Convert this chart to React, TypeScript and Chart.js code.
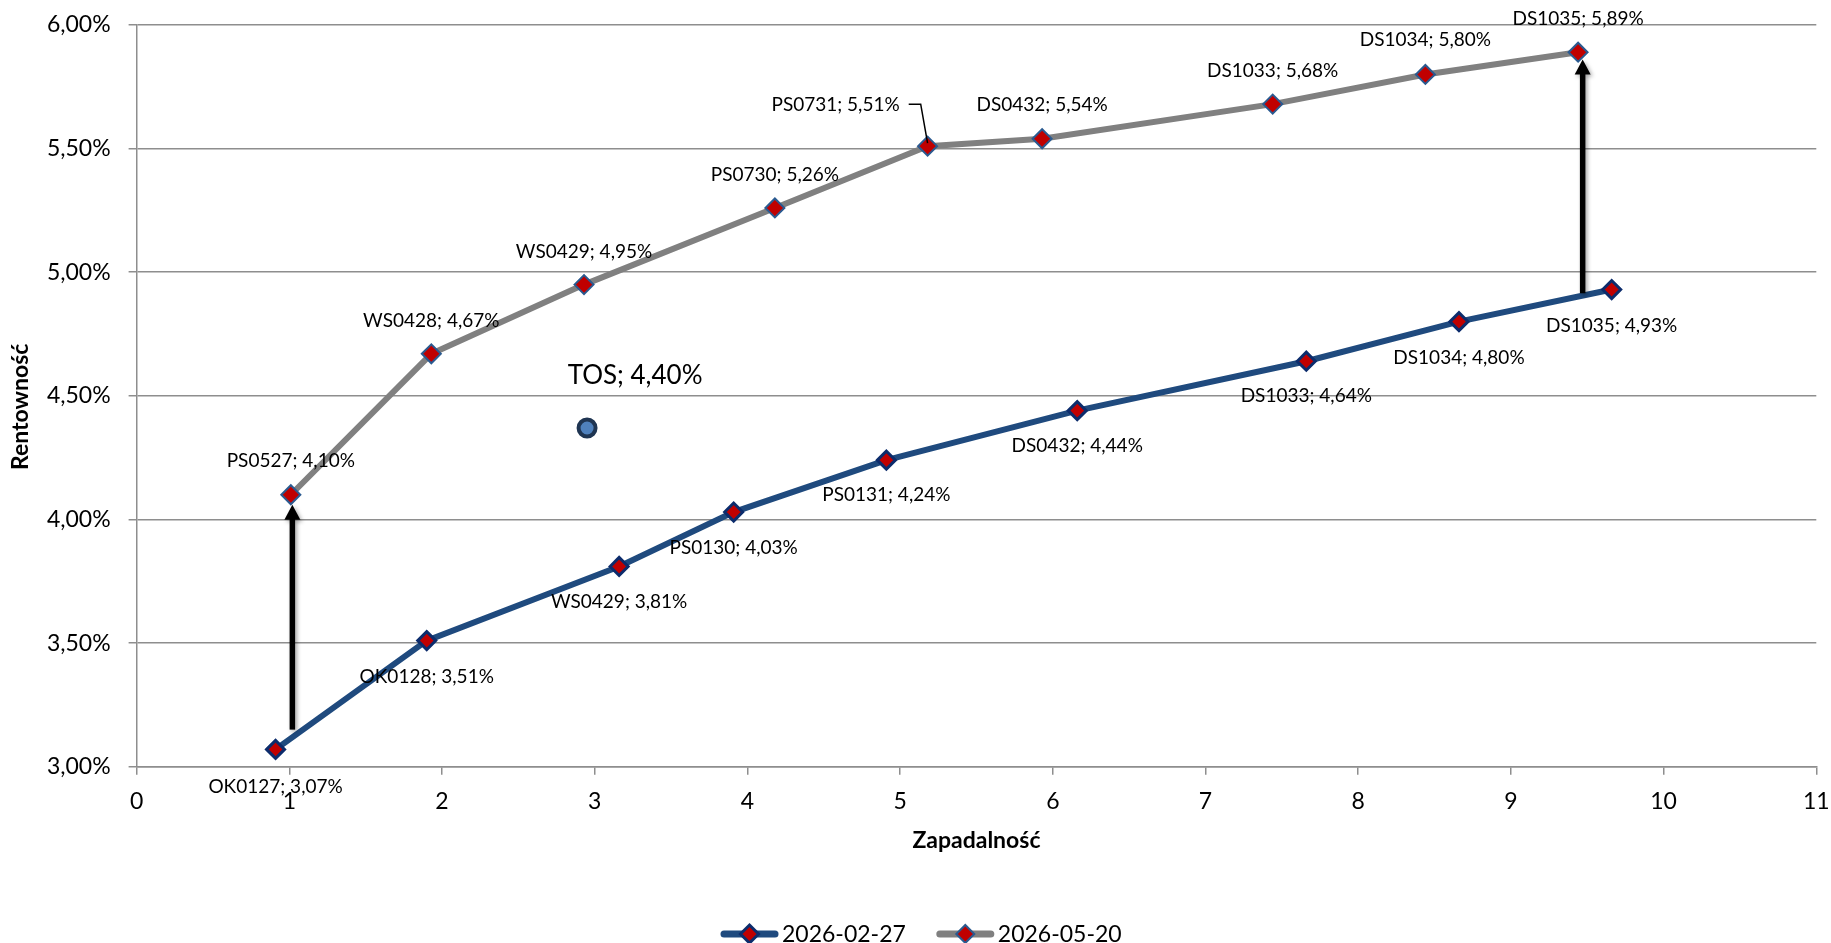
import React, { useEffect, useRef } from 'react';
import { Chart, registerables } from 'chart.js';

Chart.register(...registerables);

// ---------- data ----------
const blueDate = '2026-02-27';
const grayDate = '2026-05-20';

const blueNames = ['OK0127', 'OK0128', 'WS0429', 'PS0130', 'PS0131', 'DS0432', 'DS1033', 'DS1034', 'DS1035'];
const blueMaturity = [0.91, 1.9, 3.16, 3.91, 4.91, 6.16, 7.66, 8.66, 9.66];
const blueYield = [3.07, 3.51, 3.81, 4.03, 4.24, 4.44, 4.64, 4.8, 4.93];

const grayNames = ['PS0527', 'WS0428', 'WS0429', 'PS0730', 'PS0731', 'DS0432', 'DS1033', 'DS1034', 'DS1035'];
const grayMaturity = [1.01, 1.93, 2.93, 4.18, 5.18, 5.93, 7.44, 8.44, 9.44];
const grayYield = [4.1, 4.67, 4.95, 5.26, 5.51, 5.54, 5.68, 5.8, 5.89];

const tosName = 'TOS';
const tosMaturity = [2.95];
const tosYield = [4.37];
const tosLabelYield = 4.4;

const arrowX = [1.02, 9.47];
const arrowFrom = [3.15, 4.915];
const arrowTo = [4.06, 5.86];

const xMin = 0;
const xMax = 11;
const xStep = 1;
const yMin = 3;
const yMax = 6;
const yStep = 0.5;

const xTitle = 'Zapadalność';
const yTitle = 'Rentowność';

// ---------- style ----------
const FONT = 'Lato, "Open Sans", sans-serif';
const BLUE = '#1F4A7E';
const GRAY = '#808080';
const RED = '#C00000';
const BLUE_MARK_BORDER = '#0C2C6C';
const GRAY_MARK_BORDER = '#2A5A90';
const GRID = '#8E8E8E';

const W = 1831;
const H = 943;

// label offsets (pixels) relative to each point
const blueLabelDx = [0, 0, 0, 0, 0, 0, 0, 0, 0];
const blueLabelDy = [37, 36, 35, 36, 35, 35, 35, 36, 36];
const grayLabelDx = [0, 0, 0, 0, -92, 0, 0, 0, 0];
const grayLabelDy = [-34, -33, -33, -33, -41, -34, -33, -35, -33];
const leaderIndex = 4;

const fmt = (v: number) => v.toFixed(2).replace('.', ',') + '%';

function diamond(ctx: CanvasRenderingContext2D, x: number, y: number, r: number, fill: string, stroke: string, bw: number) {
  ctx.beginPath();
  ctx.moveTo(x, y - r);
  ctx.lineTo(x + r, y);
  ctx.lineTo(x, y + r);
  ctx.lineTo(x - r, y);
  ctx.closePath();
  ctx.fillStyle = fill;
  ctx.fill();
  ctx.lineWidth = bw;
  ctx.strokeStyle = stroke;
  ctx.stroke();
}

const overlayPlugin = {
  id: 'overlay',
  afterDatasetsDraw(chart: any) {
    const ctx: CanvasRenderingContext2D = chart.ctx;
    const xs = chart.scales.x;
    const ys = chart.scales.y;

    // arrows
    ctx.save();
    for (let i = 0; i < arrowX.length; i++) {
      const px = xs.getPixelForValue(arrowX[i]);
      const y0 = ys.getPixelForValue(arrowFrom[i]);
      const y1 = ys.getPixelForValue(arrowTo[i]);
      const head = 15;
      ctx.shadowColor = 'rgba(0,0,0,0.35)';
      ctx.shadowBlur = 4;
      ctx.shadowOffsetX = 2;
      ctx.shadowOffsetY = 2;
      ctx.fillStyle = '#000';
      ctx.fillRect(px - 2.75, y1 + head - 1, 5.5, y0 - (y1 + head - 1));
      ctx.beginPath();
      ctx.moveTo(px, y1);
      ctx.lineTo(px + 8, y1 + head);
      ctx.lineTo(px - 8, y1 + head);
      ctx.closePath();
      ctx.fill();
    }
    ctx.restore();

    // data labels
    ctx.save();
    ctx.fillStyle = '#000';
    ctx.textAlign = 'center';
    ctx.textBaseline = 'middle';
    ctx.font = `19px ${FONT}`;
    for (let i = 0; i < blueNames.length; i++) {
      const px = xs.getPixelForValue(blueMaturity[i]);
      const py = ys.getPixelForValue(blueYield[i]);
      ctx.fillText(`${blueNames[i]}; ${fmt(blueYield[i])}`, px + blueLabelDx[i], py + blueLabelDy[i]);
    }
    for (let i = 0; i < grayNames.length; i++) {
      const px = xs.getPixelForValue(grayMaturity[i]);
      const py = ys.getPixelForValue(grayYield[i]);
      const text = `${grayNames[i]}; ${fmt(grayYield[i])}`;
      const lx = px + grayLabelDx[i];
      const ly = py + grayLabelDy[i];
      ctx.fillText(text, lx, ly);
      if (i === leaderIndex) {
        const w = ctx.measureText(text).width;
        const sx = lx + w / 2 + 9;
        ctx.beginPath();
        ctx.moveTo(sx, ly - 1);
        ctx.lineTo(sx + 12, ly - 1);
        ctx.lineTo(px, py - 3);
        ctx.strokeStyle = '#000';
        ctx.lineWidth = 1.5;
        ctx.stroke();
      }
    }
    ctx.font = `26px ${FONT}`;
    const tx = xs.getPixelForValue(tosMaturity[0]);
    const ty = ys.getPixelForValue(tosYield[0]);
    ctx.fillText(`${tosName}; ${fmt(tosLabelYield)}`, tx + 48, ty - 52);
    ctx.restore();
  },
  afterDraw(chart: any) {
    const ctx: CanvasRenderingContext2D = chart.ctx;
    const area = chart.chartArea;
    ctx.save();
    ctx.fillStyle = '#000';
    ctx.textAlign = 'center';
    ctx.textBaseline = 'middle';
    ctx.font = `bold 23px ${FONT}`;
    ctx.fillText(xTitle, (area.left + area.right) / 2, 841);
    ctx.translate(21, (area.top + area.bottom) / 2 + 11);
    ctx.rotate(-Math.PI / 2);
    ctx.fillText(yTitle, 0, 0);
    ctx.restore();

    // legend
    ctx.save();
    ctx.font = `23px ${FONT}`;
    ctx.textBaseline = 'middle';
    ctx.textAlign = 'left';
    const ly = 934;
    let x = 721;
    const items = [
      { text: blueDate, color: BLUE, border: BLUE_MARK_BORDER, bw: 3 },
      { text: grayDate, color: GRAY, border: GRAY_MARK_BORDER, bw: 2 },
    ];
    for (const it of items) {
      ctx.strokeStyle = it.color;
      ctx.lineWidth = 7;
      ctx.lineCap = 'round';
      ctx.beginPath();
      ctx.moveTo(x + 3, ly);
      ctx.lineTo(x + 54, ly);
      ctx.stroke();
      diamond(ctx, x + 28.5, ly, 9, RED, it.border, it.bw);
      ctx.fillStyle = '#000';
      ctx.fillText(it.text, x + 61, ly + 1);
      x += 61 + ctx.measureText(it.text).width + 31;
    }
    ctx.restore();
  },
};

function fixFit(vertical: boolean) {
  return (s: any) => {
    s.paddingTop = 0;
    s.paddingBottom = 0;
    s.paddingLeft = 0;
    s.paddingRight = 0;
    if (vertical) s.width = 136.6;
    else s.height = H - 50 - 766.7;
  };
}

export default function App() {
  const ref = useRef<HTMLCanvasElement | null>(null);
  useEffect(() => {
    if (!ref.current) return;
    const chart = new Chart(ref.current, {
      type: 'scatter',
      data: {
        datasets: [
          {
            label: blueDate,
            data: blueMaturity.map((x, i) => ({ x, y: blueYield[i] })),
            showLine: true,
            borderColor: BLUE,
            borderWidth: 6,
            pointStyle: 'rectRot',
            pointRadius: 9,
            pointBackgroundColor: RED,
            pointBorderColor: BLUE_MARK_BORDER,
            pointBorderWidth: 3,
            tension: 0,
          },
          {
            label: grayDate,
            data: grayMaturity.map((x, i) => ({ x, y: grayYield[i] })),
            showLine: true,
            borderColor: GRAY,
            borderWidth: 6,
            pointStyle: 'rectRot',
            pointRadius: 9.5,
            pointBackgroundColor: RED,
            pointBorderColor: GRAY_MARK_BORDER,
            pointBorderWidth: 2,
            tension: 0,
          },
          {
            label: tosName,
            data: tosMaturity.map((x, i) => ({ x, y: tosYield[i] })),
            showLine: false,
            pointStyle: 'circle',
            pointRadius: 8.5,
            pointBackgroundColor: '#4F81BD',
            pointBorderColor: '#1F3552',
            pointBorderWidth: 4,
          },
        ],
      },
      options: {
        responsive: false,
        animation: false,
        devicePixelRatio: 1,
        layout: { padding: { left: 0, top: 25, right: 14.7, bottom: 50 } },
        plugins: { legend: { display: false }, tooltip: { enabled: false } },
        scales: {
          x: {
            type: 'linear',
            min: xMin,
            max: xMax,
            ticks: { stepSize: xStep, color: '#000', font: { family: FONT, size: 23 }, padding: 13 },
            grid: { drawOnChartArea: false, drawTicks: true, tickLength: 8, color: GRID, lineWidth: 1.5 },
            border: { color: GRID, width: 1.5 },
            afterFit: fixFit(false),
          },
          y: {
            type: 'linear',
            min: yMin,
            max: yMax,
            ticks: {
              stepSize: yStep,
              color: '#000',
              font: { family: FONT, size: 23 },
              padding: 18,
              callback: (v: any) => fmt(Number(v)),
            },
            grid: { color: GRID, lineWidth: 1.5, tickLength: 8 },
            border: { color: GRID, width: 1.5 },
            afterFit: fixFit(true),
          },
        },
      },
      plugins: [overlayPlugin],
    } as any);
    return () => chart.destroy();
  }, []);
  return (
    <div style={{ position: 'absolute', left: 0, top: 0, width: W, height: H, background: '#fff' }}>
      <canvas ref={ref} width={W} height={H} style={{ display: 'block', width: W, height: H }} />
    </div>
  );
}
